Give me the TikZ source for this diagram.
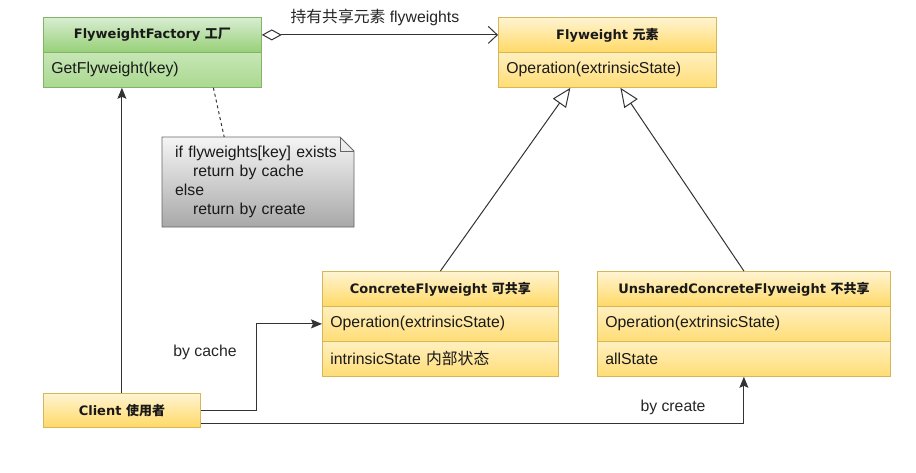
\documentclass[tikz,border=0pt]{standalone}
\usepackage{fontspec}
\setmainfont{Liberation Sans}
\newfontfamily\hdfont{DejaVu Sans}
\newfontfamily\cjk{Noto Sans CJK SC}
\usetikzlibrary{arrows.meta}
\definecolor{yA}{HTML}{FFF4D2}
\definecolor{yB}{HTML}{FFD966}
\definecolor{yR}{HTML}{FFE38A}
\definecolor{yS}{HTML}{D6B656}
\definecolor{gA}{HTML}{D8EDD2}
\definecolor{gB}{HTML}{97D077}
\definecolor{gR}{HTML}{A9D98F}
\definecolor{gS}{HTML}{82B366}
\definecolor{nA}{HTML}{F5F5F5}
\definecolor{nB}{HTML}{A8A8A8}
\definecolor{nS}{HTML}{666666}
\definecolor{ln}{HTML}{333333}
\newcommand{\zh}[1]{{\cjk #1}}
\tikzset{
  umlbox/.style={draw=yS, line width=0.8pt, inner sep=0pt, anchor=north west, text=black!90},
  yhdr/.style={umlbox, top color=yA, bottom color=yB, minimum height=35pt,
    font=\hdfont\bfseries\fontsize{13}{15}\selectfont},
  ghdr/.style={yhdr, draw=gS, top color=gA, bottom color=gB},
  yrow/.style={umlbox, top color=yR!55!white, bottom color=yB!90!white, minimum height=35pt,
    align=left, inner xsep=8pt, font=\fontsize{15.8}{19}\selectfont},
  greenrow/.style={yrow, draw=gS, top color=gR!65!white, bottom color=gR},
  conn/.style={draw=ln, line width=1pt},
  lbl/.style={text=black!85, font=\fontsize{15.8}{19}\selectfont, inner sep=0pt},
  filltip/.style={-{Stealth[length=11pt,width=9pt,inset=2pt]}},
  inh/.style={-{Triangle[open,length=19pt,width=16pt,fill=white]}}
}
\begin{document}
\begin{tikzpicture}[x=1pt,y=-1pt]
\useasboundingbox[fill=white] (0,0) rectangle (916,472);

% FlyweightFactory
\node[ghdr, minimum width=218pt] (ffh) at (43,17) {FlyweightFactory \zh{工厂}};
\node[greenrow, text width=202pt] (ffo) at (43,52) {GetFlyweight(key)};

% Flyweight
\node[yhdr, minimum width=218pt] (fwh) at (498,17) {Flyweight \zh{元素}};
\node[yrow, text width=202pt] (fwo) at (498,52) {Operation(extrinsicState)};

% ConcreteFlyweight
\node[yhdr, minimum width=236pt] (cfh) at (322,271) {ConcreteFlyweight \zh{可共享}};
\node[yrow, text width=220pt] (cfo) at (322,306) {Operation(extrinsicState)};
\node[yrow, text width=220pt] (cfs) at (322,341) {intrinsicState \zh{内部状态}};

% UnsharedConcreteFlyweight
\node[yhdr, minimum width=293pt] (uch) at (597,271) {UnsharedConcreteFlyweight \zh{不共享}};
\node[yrow, text width=277pt] (uco) at (597,306) {Operation(extrinsicState)};
\node[yrow, text width=277pt] (uca) at (597,341) {allState};

% Client
\node[yhdr, minimum width=157pt, minimum height=34pt] (cl) at (43,393) {Client \zh{使用者}};

% Note
\path[draw=nS, line width=0.8pt, top color=nA, bottom color=nB]
  (162,137) -- (340,137) -- (354,151) -- (354,227) -- (162,227) -- cycle;
\draw[nS, line width=0.8pt] (340,137) -- (340,151) -- (354,151);
\node[anchor=north west, text width=166pt, inner xsep=13pt, inner ysep=9pt, align=left,
  text=black!90, font=\fontsize{15.8}{19}\selectfont] (note) at (162,137)
  {if flyweights[key] exists\\\hspace*{18pt}return by cache\\else\\\hspace*{18pt}return by create};

% connectors
\draw[conn, {Diamond[open,length=20pt,width=11pt,fill=white]}-{Straight Barb[length=9pt,width=17pt]}]
  (ffh.east) -- node[lbl, midway, above=9pt, xshift=-5pt] (lhold) {\zh{持有共享元素} flyweights} (fwh.west);
\draw[conn, dash pattern=on 3pt off 3pt] ([xshift=61pt]ffo.south) -- ([xshift=-34pt]note.north);
\draw[conn, inh] (cfh.north) -- ([xshift=-37pt]fwo.south);
\draw[conn, inh] (uch.north) -- ([xshift=13pt]fwo.south);
\draw[conn, filltip] (cl.north) -- (cl.north |- ffo.south);
\draw[conn, filltip] (cl.east) -- ++(56,0) |- (cfo.west);
\draw[conn, filltip] ([yshift=-13pt]cl.east) -| (uca.south);
\node[lbl] (lcache) at (205,352) {by cache};
\node[lbl] (lcreate) at (673,407) {by create};
\end{tikzpicture}
\end{document}
